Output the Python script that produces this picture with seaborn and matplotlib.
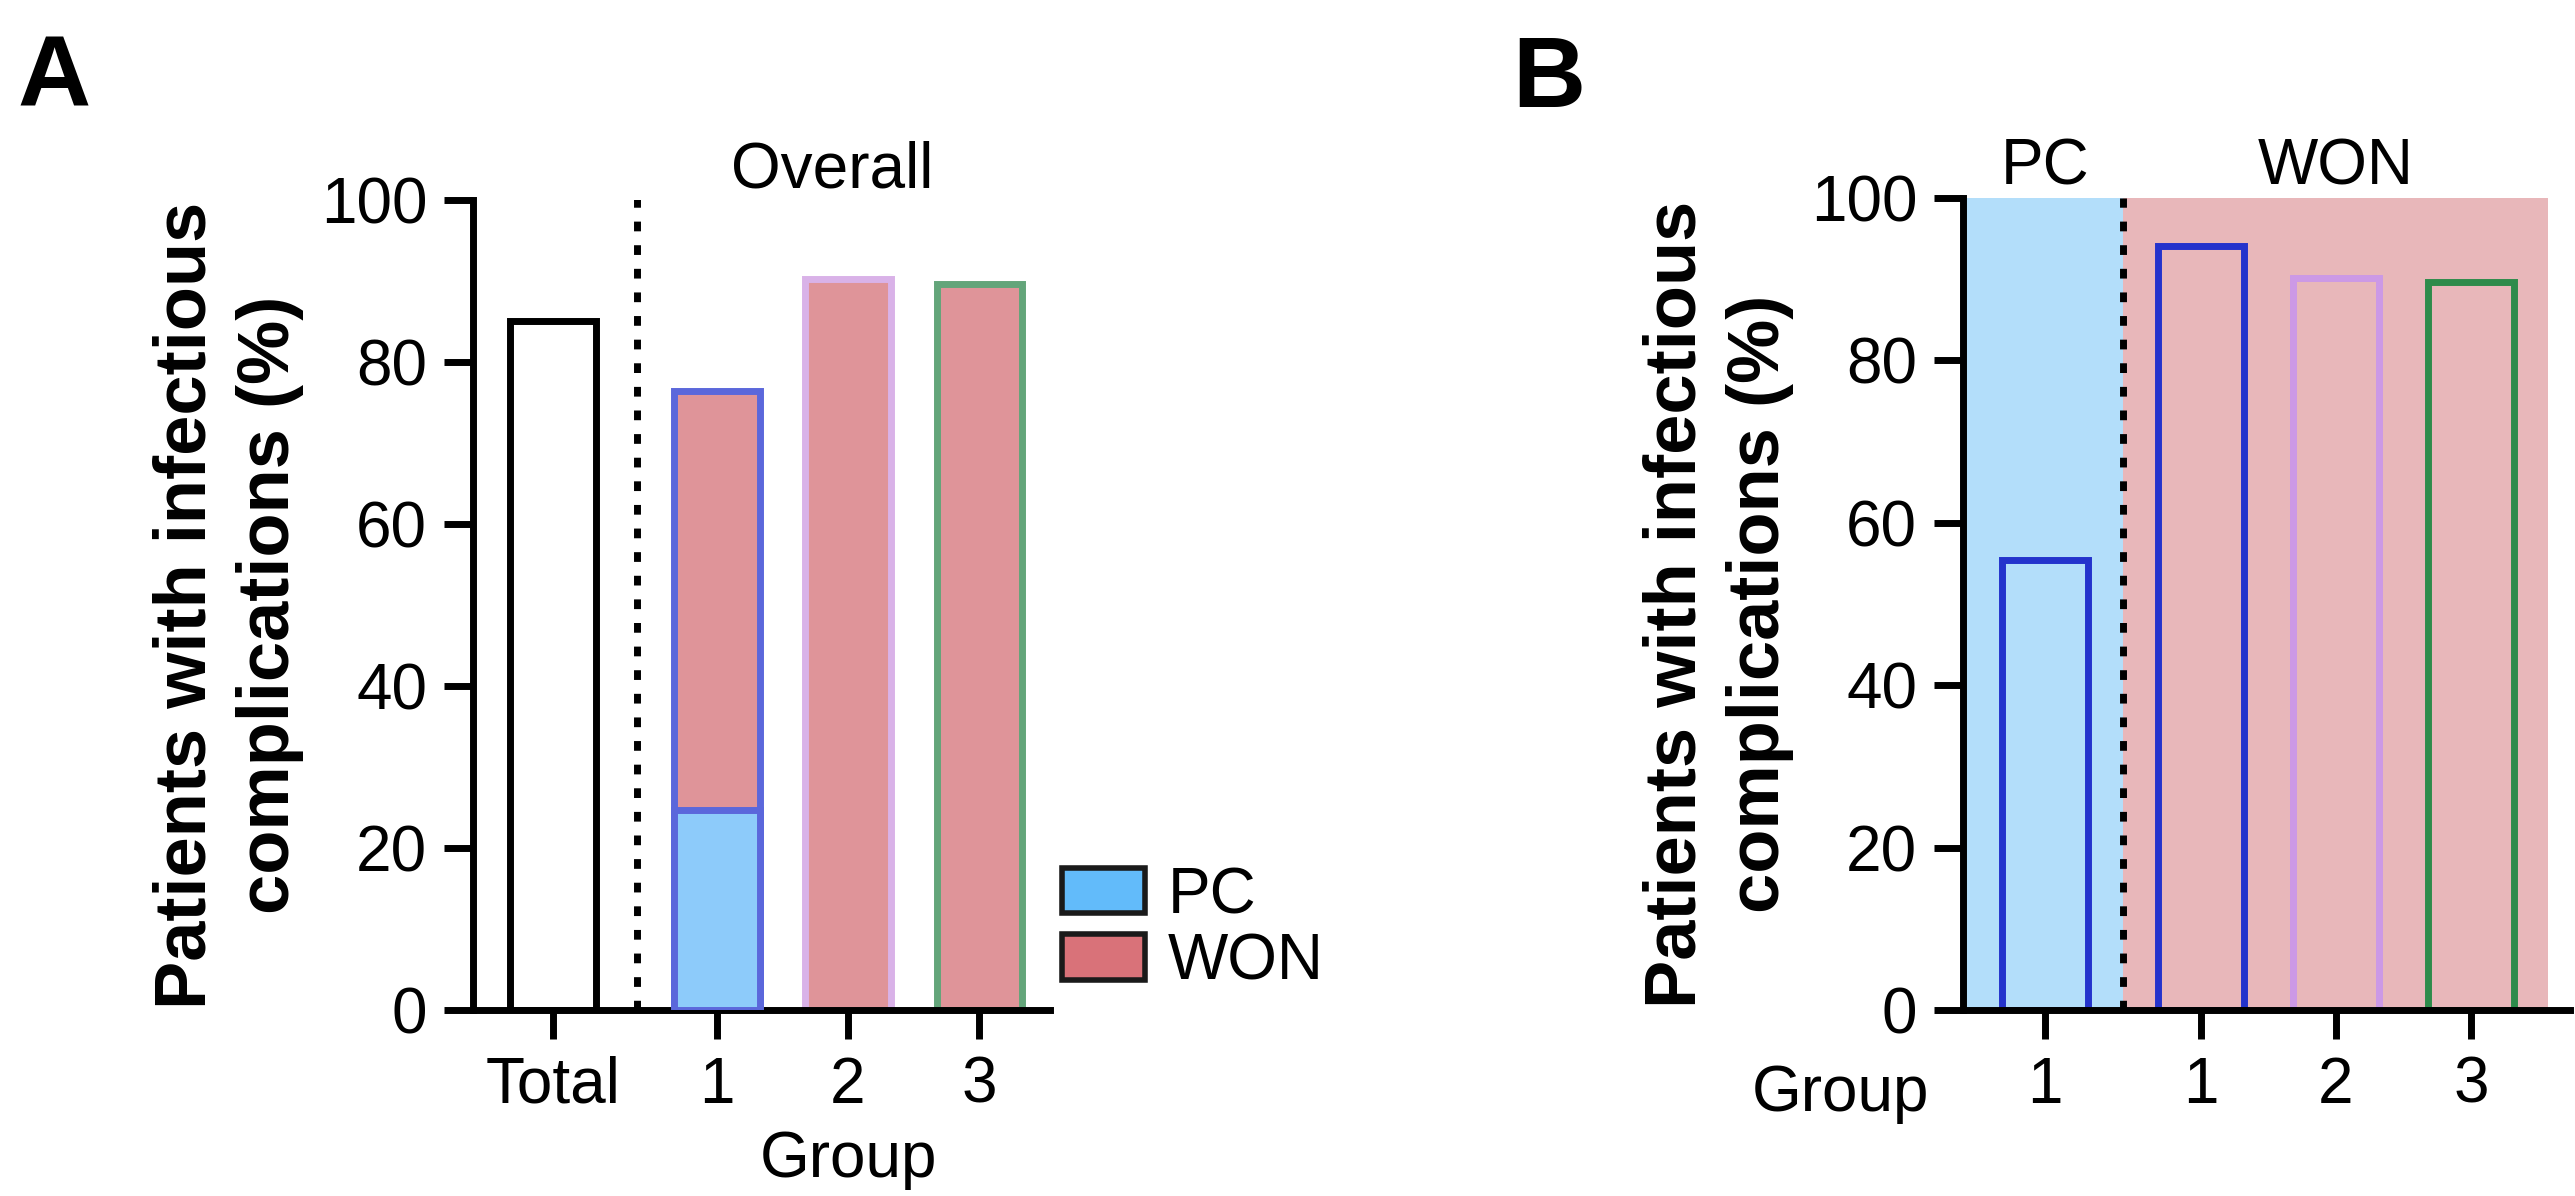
import matplotlib
matplotlib.use('Agg')
import matplotlib.pyplot as plt
from matplotlib.patches import Patch
import pandas as pd
import seaborn as sns

# Data
a_labels = ['Total', '1', '2', '3']
a_values = [85.1, 76.4, 90.2, 89.6]      # % with infectious complications
a_pc_group1 = [24.7]                      # PC share of group 1 (stacked)
b_sections = ['PC', 'WON', 'WON', 'WON']
b_labels = ['1', '1', '2', '3']
b_values = [55.4, 94.1, 90.2, 89.6]

# Layout (bar positions on the x axis, not data)
a_pos = [0, 1.25, 2.25, 3.25]
b_pos = [0, 1.156, 2.156, 3.156]

# Colours
pc_col = '#62BBFA'
won_col = '#D97279'
a_fill = ['white', '#DF9499', '#DF9499', '#DF9499']
a_edge = ['black', '#5B67DB', '#D9B2E8', '#63A57A']
a_pc_fill = '#8DCBFA'
b_edge = ['#2433CC', '#2433CC', '#CC99E6', '#2E8B4B']
b_pc_shade = '#B3DEFA'
b_won_shade = '#E8B7BA'

sns.set_style('ticks')
plt.rcParams['font.family'] = ['Liberation Sans', 'DejaVu Sans']
plt.rcParams.update({'text.color': 'black', 'axes.labelcolor': 'black',
                     'xtick.color': 'black', 'ytick.color': 'black',
                     'axes.edgecolor': 'black'})

FS = 46
LW = 5

W, H = 2575, 1196
fig = plt.figure(figsize=(W / 100, H / 100), dpi=100)


def px_axes(left, right, top, bottom):
    return fig.add_axes([left / W, 1 - bottom / H, (right - left) / W, (bottom - top) / H])


def style_axis(ax):
    sns.despine(ax=ax)
    ax.set_ylim(0, 100)
    ax.set_yticks(range(0, 101, 20))
    for side in ['left', 'bottom']:
        ax.spines[side].set_linewidth(LW)
        ax.spines[side].set_color('black')
    ax.tick_params(axis='both', length=21, width=LW, labelsize=FS, pad=12,
                   color='black', labelcolor='black')
    ax.set_ylabel('Patients with infectious\ncomplications (%)',
                  fontsize=52, fontweight='bold', linespacing=1.3, labelpad=12)


# ---------------- Panel A ----------------
ax_a = px_axes(473, 1050, 200, 1010)
df_a = pd.DataFrame({'pos': a_pos, 'value': a_values, 'label': a_labels})
sns.barplot(data=df_a, x='pos', y='value', native_scale=True, width=0.65,
            color='white', ax=ax_a, zorder=2)
for patch, fc, ec in zip(ax_a.patches, a_fill, a_edge):
    patch.set_facecolor(fc)
    patch.set_edgecolor(ec)
    patch.set_linewidth(LW)

df_pc = pd.DataFrame({'pos': [a_pos[1]], 'value': a_pc_group1})
n_before = len(ax_a.patches)
sns.barplot(data=df_pc, x='pos', y='value', native_scale=True, width=0.65,
            color=a_pc_fill, ax=ax_a, zorder=3)
for patch in ax_a.patches[n_before:]:
    patch.set_facecolor(a_pc_fill)
    patch.set_edgecolor(a_edge[1])
    patch.set_linewidth(LW)

ax_a.vlines(0.64, 0, 101, colors='black', linewidth=LW,
            linestyles=(0, (1.4, 2.0)), zorder=1)
ax_a.set_xlim(-0.61, 3.79)
ax_a.set_xticks(a_pos)
ax_a.set_xticklabels(a_labels)
ax_a.set_xlabel('')
style_axis(ax_a)
ax_a.text(2.13, 103.7, 'Overall', ha='center', va='center', fontsize=FS, clip_on=False)
ax_a.text(a_pos[2], -18.5, 'Group', ha='center', va='center', fontsize=FS, clip_on=False)

handles = [Patch(facecolor=pc_col, edgecolor='#1a1a1a', linewidth=4, label='PC'),
           Patch(facecolor=won_col, edgecolor='#1a1a1a', linewidth=4, label='WON')]
fig.legend(handles=handles, loc='upper left', bbox_to_anchor=(1062 / W, 1 - 866 / H),
           frameon=False, fontsize=FS, handlelength=1.3, handleheight=0.72,
           handletextpad=0.35, labelspacing=0.1, borderpad=0, borderaxespad=0)

# ---------------- Panel B ----------------
ax_b = px_axes(1963, 2570, 198, 1010)
df_b = pd.DataFrame({'pos': b_pos, 'value': b_values, 'section': b_sections})
sns.barplot(data=df_b, x='pos', y='value', native_scale=True, width=0.64,
            color='white', ax=ax_b, zorder=2)
for patch, ec in zip(ax_b.patches, b_edge):
    patch.set_facecolor('none')
    patch.set_edgecolor(ec)
    patch.set_linewidth(LW)
# shaded PC / WON regions behind the bars
ax_b.axvspan(-0.607, 0.578, color=b_pc_shade, lw=0, zorder=0)
ax_b.axvspan(0.578, 3.726, color=b_won_shade, lw=0, zorder=0)
ax_b.vlines(0.578, 0, 100, colors='black', linewidth=LW,
            linestyles=(0, (1.4, 2.0)), zorder=1)
ax_b.set_xlim(-0.607, 3.889)
ax_b.set_xticks(b_pos)
ax_b.set_xticklabels(b_labels)
ax_b.set_xlabel('')
style_axis(ax_b)
ax_b.text(b_pos[0], 103.7, 'PC', ha='center', va='center', fontsize=FS, clip_on=False)
ax_b.text(b_pos[2], 103.7, 'WON', ha='center', va='center', fontsize=FS, clip_on=False)
ax_b.text(-0.86, -10.3, 'Group', ha='right', va='center', fontsize=FS, clip_on=False)

# panel letters
fig.text(17 / W, 1 - 107 / H, 'A', fontsize=73, fontweight='bold', va='baseline')
fig.text(1512 / W, 1 - 107 / H, 'B', fontsize=73, fontweight='bold', va='baseline')

fig.savefig('out.png', dpi=100, facecolor='white')
